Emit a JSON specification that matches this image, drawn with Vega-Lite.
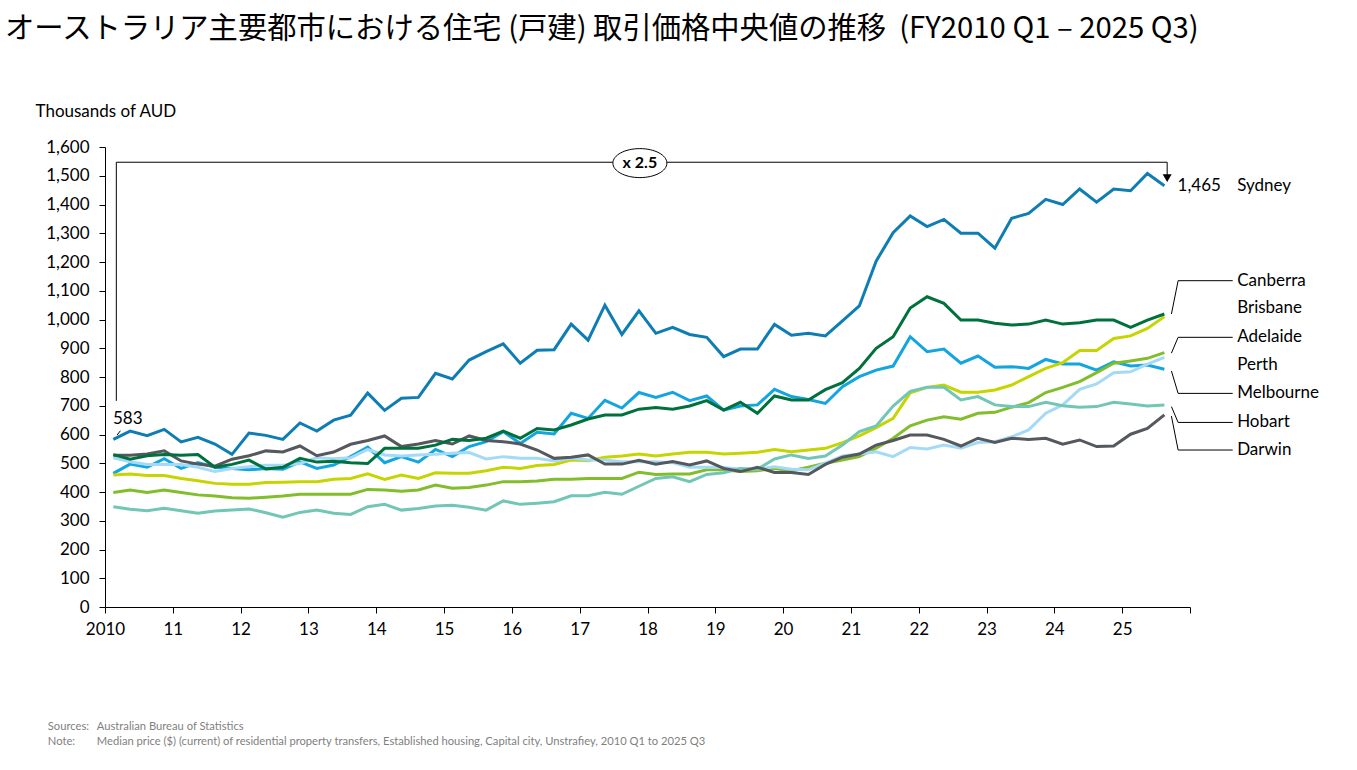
{
  "$schema": "https://vega.github.io/schema/vega-lite/v6.json",
  "width": 1085,
  "height": 460,
  "autosize": {"type": "none"},
  "padding": {"left": 105, "top": 147, "right": 167, "bottom": 163},
  "background": "white",
  "config": {"view": {"stroke": null}, "font": "Lato", "text": {"font": "Lato"}},
  "title": {
    "text": "オーストラリア主要都市における住宅 (戸建) 取引価格中央値の推移 \u00a0(FY2010 Q1 – 2025 Q3)",
    "anchor": "start", "frame": "group", "dx": -100, "offset": 58,
    "font": "Noto Sans CJK JP", "fontSize": 29.3, "fontWeight": "normal", "color": "#000000"
  },
  "resolve": {"scale": {"y": "independent"}},
  "layer": [
    {
      "data": {"values": [
        {"quarter":"2010-01-01","Sydney":583,"Melbourne":465,"Brisbane":459,"Adelaide":398,"Perth":519,"Hobart":349,"Darwin":528,"Canberra":530},
        {"quarter":"2010-04-01","Sydney":612,"Melbourne":497,"Brisbane":463,"Adelaide":407,"Perth":505,"Hobart":340,"Darwin":528,"Canberra":514},
        {"quarter":"2010-07-01","Sydney":596,"Melbourne":486,"Brisbane":457,"Adelaide":398,"Perth":496,"Hobart":335,"Darwin":532,"Canberra":526},
        {"quarter":"2010-10-01","Sydney":618,"Melbourne":516,"Brisbane":457,"Adelaide":407,"Perth":496,"Hobart":343,"Darwin":543,"Canberra":530},
        {"quarter":"2011-01-01","Sydney":574,"Melbourne":482,"Brisbane":447,"Adelaide":398,"Perth":496,"Hobart":335,"Darwin":508,"Canberra":528},
        {"quarter":"2011-04-01","Sydney":590,"Melbourne":502,"Brisbane":439,"Adelaide":390,"Perth":486,"Hobart":326,"Darwin":497,"Canberra":530},
        {"quarter":"2011-07-01","Sydney":567,"Melbourne":486,"Brisbane":430,"Adelaide":386,"Perth":471,"Hobart":334,"Darwin":490,"Canberra":486},
        {"quarter":"2011-10-01","Sydney":531,"Melbourne":482,"Brisbane":427,"Adelaide":380,"Perth":482,"Hobart":337,"Darwin":514,"Canberra":496},
        {"quarter":"2012-01-01","Sydney":605,"Melbourne":477,"Brisbane":427,"Adelaide":378,"Perth":488,"Hobart":341,"Darwin":526,"Canberra":511},
        {"quarter":"2012-04-01","Sydney":597,"Melbourne":482,"Brisbane":433,"Adelaide":382,"Perth":493,"Hobart":328,"Darwin":543,"Canberra":480},
        {"quarter":"2012-07-01","Sydney":583,"Melbourne":479,"Brisbane":434,"Adelaide":386,"Perth":493,"Hobart":312,"Darwin":539,"Canberra":486},
        {"quarter":"2012-10-01","Sydney":640,"Melbourne":505,"Brisbane":436,"Adelaide":392,"Perth":499,"Hobart":329,"Darwin":560,"Canberra":517},
        {"quarter":"2013-01-01","Sydney":612,"Melbourne":482,"Brisbane":436,"Adelaide":392,"Perth":519,"Hobart":337,"Darwin":526,"Canberra":504},
        {"quarter":"2013-04-01","Sydney":650,"Melbourne":494,"Brisbane":444,"Adelaide":392,"Perth":516,"Hobart":326,"Darwin":539,"Canberra":507},
        {"quarter":"2013-07-01","Sydney":667,"Melbourne":523,"Brisbane":447,"Adelaide":392,"Perth":519,"Hobart":322,"Darwin":566,"Canberra":502},
        {"quarter":"2013-10-01","Sydney":744,"Melbourne":556,"Brisbane":463,"Adelaide":409,"Perth":548,"Hobart":349,"Darwin":579,"Canberra":499},
        {"quarter":"2014-01-01","Sydney":684,"Melbourne":502,"Brisbane":444,"Adelaide":407,"Perth":529,"Hobart":357,"Darwin":595,"Canberra":552},
        {"quarter":"2014-04-01","Sydney":726,"Melbourne":523,"Brisbane":459,"Adelaide":403,"Perth":525,"Hobart":337,"Darwin":558,"Canberra":552},
        {"quarter":"2014-07-01","Sydney":729,"Melbourne":504,"Brisbane":447,"Adelaide":407,"Perth":529,"Hobart":343,"Darwin":567,"Canberra":552},
        {"quarter":"2014-10-01","Sydney":813,"Melbourne":548,"Brisbane":467,"Adelaide":424,"Perth":531,"Hobart":351,"Darwin":579,"Canberra":563},
        {"quarter":"2015-01-01","Sydney":793,"Melbourne":523,"Brisbane":465,"Adelaide":413,"Perth":535,"Hobart":354,"Darwin":567,"Canberra":583},
        {"quarter":"2015-04-01","Sydney":859,"Melbourne":558,"Brisbane":465,"Adelaide":416,"Perth":537,"Hobart":347,"Darwin":595,"Canberra":579},
        {"quarter":"2015-07-01","Sydney":888,"Melbourne":575,"Brisbane":474,"Adelaide":424,"Perth":515,"Hobart":337,"Darwin":579,"Canberra":587},
        {"quarter":"2015-10-01","Sydney":915,"Melbourne":610,"Brisbane":486,"Adelaide":436,"Perth":523,"Hobart":369,"Darwin":575,"Canberra":612},
        {"quarter":"2016-01-01","Sydney":848,"Melbourne":569,"Brisbane":482,"Adelaide":436,"Perth":517,"Hobart":357,"Darwin":567,"Canberra":587},
        {"quarter":"2016-04-01","Sydney":893,"Melbourne":608,"Brisbane":492,"Adelaide":438,"Perth":517,"Hobart":361,"Darwin":546,"Canberra":621},
        {"quarter":"2016-07-01","Sydney":895,"Melbourne":602,"Brisbane":496,"Adelaide":444,"Perth":508,"Hobart":366,"Darwin":517,"Canberra":616},
        {"quarter":"2016-10-01","Sydney":984,"Melbourne":674,"Brisbane":511,"Adelaide":444,"Perth":517,"Hobart":387,"Darwin":521,"Canberra":633},
        {"quarter":"2017-01-01","Sydney":928,"Melbourne":656,"Brisbane":509,"Adelaide":447,"Perth":511,"Hobart":387,"Darwin":529,"Canberra":654},
        {"quarter":"2017-04-01","Sydney":1050,"Melbourne":719,"Brisbane":521,"Adelaide":447,"Perth":511,"Hobart":399,"Darwin":497,"Canberra":668},
        {"quarter":"2017-07-01","Sydney":948,"Melbourne":692,"Brisbane":525,"Adelaide":447,"Perth":505,"Hobart":392,"Darwin":497,"Canberra":668},
        {"quarter":"2017-10-01","Sydney":1030,"Melbourne":746,"Brisbane":532,"Adelaide":469,"Perth":505,"Hobart":420,"Darwin":510,"Canberra":688},
        {"quarter":"2018-01-01","Sydney":952,"Melbourne":729,"Brisbane":525,"Adelaide":461,"Perth":505,"Hobart":447,"Darwin":497,"Canberra":694},
        {"quarter":"2018-04-01","Sydney":973,"Melbourne":747,"Brisbane":532,"Adelaide":463,"Perth":502,"Hobart":453,"Darwin":506,"Canberra":688},
        {"quarter":"2018-07-01","Sydney":948,"Melbourne":718,"Brisbane":538,"Adelaide":463,"Perth":486,"Hobart":436,"Darwin":494,"Canberra":699},
        {"quarter":"2018-10-01","Sydney":938,"Melbourne":734,"Brisbane":538,"Adelaide":477,"Perth":486,"Hobart":461,"Darwin":508,"Canberra":718},
        {"quarter":"2019-01-01","Sydney":871,"Melbourne":685,"Brisbane":532,"Adelaide":477,"Perth":485,"Hobart":467,"Darwin":482,"Canberra":685},
        {"quarter":"2019-04-01","Sydney":897,"Melbourne":699,"Brisbane":535,"Adelaide":471,"Perth":479,"Hobart":482,"Darwin":471,"Canberra":712},
        {"quarter":"2019-07-01","Sydney":897,"Melbourne":703,"Brisbane":538,"Adelaide":474,"Perth":479,"Hobart":479,"Darwin":486,"Canberra":674},
        {"quarter":"2019-10-01","Sydney":983,"Melbourne":757,"Brisbane":548,"Adelaide":482,"Perth":488,"Hobart":515,"Darwin":468,"Canberra":734},
        {"quarter":"2020-01-01","Sydney":945,"Melbourne":732,"Brisbane":540,"Adelaide":474,"Perth":479,"Hobart":529,"Darwin":468,"Canberra":720},
        {"quarter":"2020-04-01","Sydney":952,"Melbourne":722,"Brisbane":546,"Adelaide":486,"Perth":477,"Hobart":517,"Darwin":461,"Canberra":720},
        {"quarter":"2020-07-01","Sydney":943,"Melbourne":708,"Brisbane":552,"Adelaide":500,"Perth":500,"Hobart":525,"Darwin":496,"Canberra":756},
        {"quarter":"2020-10-01","Sydney":995,"Melbourne":766,"Brisbane":572,"Adelaide":511,"Perth":525,"Hobart":563,"Darwin":521,"Canberra":780},
        {"quarter":"2021-01-01","Sydney":1047,"Melbourne":801,"Brisbane":595,"Adelaide":523,"Perth":532,"Hobart":610,"Darwin":532,"Canberra":830},
        {"quarter":"2021-04-01","Sydney":1203,"Melbourne":824,"Brisbane":624,"Adelaide":552,"Perth":540,"Hobart":630,"Darwin":563,"Canberra":900},
        {"quarter":"2021-07-01","Sydney":1302,"Melbourne":838,"Brisbane":656,"Adelaide":587,"Perth":523,"Hobart":699,"Darwin":579,"Canberra":940},
        {"quarter":"2021-10-01","Sydney":1360,"Melbourne":940,"Brisbane":745,"Adelaide":630,"Perth":555,"Hobart":750,"Darwin":598,"Canberra":1040},
        {"quarter":"2022-01-01","Sydney":1323,"Melbourne":888,"Brisbane":764,"Adelaide":650,"Perth":550,"Hobart":764,"Darwin":598,"Canberra":1079},
        {"quarter":"2022-04-01","Sydney":1348,"Melbourne":897,"Brisbane":772,"Adelaide":662,"Perth":563,"Hobart":764,"Darwin":583,"Canberra":1056},
        {"quarter":"2022-07-01","Sydney":1300,"Melbourne":848,"Brisbane":747,"Adelaide":653,"Perth":552,"Hobart":720,"Darwin":560,"Canberra":998},
        {"quarter":"2022-10-01","Sydney":1300,"Melbourne":873,"Brisbane":747,"Adelaide":674,"Perth":572,"Hobart":732,"Darwin":587,"Canberra":998},
        {"quarter":"2023-01-01","Sydney":1248,"Melbourne":834,"Brisbane":755,"Adelaide":677,"Perth":575,"Hobart":703,"Darwin":572,"Canberra":987},
        {"quarter":"2023-04-01","Sydney":1352,"Melbourne":836,"Brisbane":772,"Adelaide":695,"Perth":592,"Hobart":697,"Darwin":587,"Canberra":981},
        {"quarter":"2023-07-01","Sydney":1369,"Melbourne":830,"Brisbane":801,"Adelaide":711,"Perth":616,"Hobart":697,"Darwin":583,"Canberra":984},
        {"quarter":"2023-10-01","Sydney":1418,"Melbourne":861,"Brisbane":830,"Adelaide":746,"Perth":674,"Hobart":712,"Darwin":587,"Canberra":998},
        {"quarter":"2024-01-01","Sydney":1400,"Melbourne":845,"Brisbane":850,"Adelaide":764,"Perth":703,"Hobart":700,"Darwin":566,"Canberra":984},
        {"quarter":"2024-04-01","Sydney":1454,"Melbourne":845,"Brisbane":892,"Adelaide":784,"Perth":757,"Hobart":695,"Darwin":581,"Canberra":989},
        {"quarter":"2024-07-01","Sydney":1408,"Melbourne":824,"Brisbane":892,"Adelaide":815,"Perth":776,"Hobart":697,"Darwin":558,"Canberra":998},
        {"quarter":"2024-10-01","Sydney":1454,"Melbourne":853,"Brisbane":934,"Adelaide":848,"Perth":815,"Hobart":712,"Darwin":560,"Canberra":998},
        {"quarter":"2025-01-01","Sydney":1448,"Melbourne":838,"Brisbane":943,"Adelaide":856,"Perth":818,"Hobart":706,"Darwin":601,"Canberra":973},
        {"quarter":"2025-04-01","Sydney":1508,"Melbourne":842,"Brisbane":969,"Adelaide":865,"Perth":845,"Hobart":699,"Darwin":621,"Canberra":998},
        {"quarter":"2025-07-01","Sydney":1465,"Melbourne":827,"Brisbane":1010,"Adelaide":885,"Perth":868,"Hobart":703,"Darwin":668,"Canberra":1019}
      ]},
      "transform": [
        {"fold": ["Sydney","Melbourne","Brisbane","Adelaide","Perth","Hobart","Darwin","Canberra"], "as": ["city","price"]}
      ],
      "mark": {"type": "line", "strokeWidth": 3},
      "encoding": {
        "x": {
          "field": "quarter", "type": "temporal", "timeUnit": "utcyearquarter", "bandPosition": 0.5,
          "scale": {"type": "utc", "nice": false, "domain": [{"year": 2010, "month": 1, "date": 1, "utc": true}, {"year": 2026, "month": 1, "date": 1, "utc": true}]},
          "axis": {
            "title": null,
            "values": [
              {"year": 2010, "month": 1, "date": 1, "utc": true}, {"year": 2011, "month": 1, "date": 1, "utc": true},
              {"year": 2012, "month": 1, "date": 1, "utc": true}, {"year": 2013, "month": 1, "date": 1, "utc": true},
              {"year": 2014, "month": 1, "date": 1, "utc": true}, {"year": 2015, "month": 1, "date": 1, "utc": true},
              {"year": 2016, "month": 1, "date": 1, "utc": true}, {"year": 2017, "month": 1, "date": 1, "utc": true},
              {"year": 2018, "month": 1, "date": 1, "utc": true}, {"year": 2019, "month": 1, "date": 1, "utc": true},
              {"year": 2020, "month": 1, "date": 1, "utc": true}, {"year": 2021, "month": 1, "date": 1, "utc": true},
              {"year": 2022, "month": 1, "date": 1, "utc": true}, {"year": 2023, "month": 1, "date": 1, "utc": true},
              {"year": 2024, "month": 1, "date": 1, "utc": true}, {"year": 2025, "month": 1, "date": 1, "utc": true},
              {"year": 2026, "month": 1, "date": 1, "utc": true}
            ],
            "labelExpr": "utcyear(datum.value) == 2010 ? '2010' : (utcyear(datum.value) >= 2026 ? '' : substring(toString(utcyear(datum.value)), 2, 4))",
            "labelAngle": 0, "labelFont": "Lato", "labelFontSize": 17, "labelFontWeight": "normal", "labelColor": "#000000",
            "labelPadding": 8, "labelFlush": false, "labelOverlap": false, "tickSize": 6, "tickColor": "#000000", "domainColor": "#000000", "grid": false
          }
        },
        "y": {
          "field": "price", "type": "quantitative",
          "scale": {"domain": [0, 1600], "nice": false, "zero": true},
          "axis": {
            "title": "Thousands of AUD", "titleAngle": 0, "titleAlign": "left", "titleBaseline": "middle",
            "titleX": -70, "titleY": -36, "titleFont": "Lato", "titleFontSize": 17, "titleFontWeight": "normal", "titleColor": "#000000",
            "values": [0,100,200,300,400,500,600,700,800,900,1000,1100,1200,1300,1400,1500,1600],
            "format": ",d", "labelFont": "Lato", "labelFontSize": 17, "labelFontWeight": "normal", "labelColor": "#000000", "labelPadding": 10,
            "tickSize": 6, "tickColor": "#000000", "domainColor": "#000000", "grid": false
          }
        },
        "color": {
          "field": "city", "type": "nominal",
          "scale": {
            "domain": ["Sydney","Melbourne","Brisbane","Adelaide","Perth","Hobart","Darwin","Canberra"],
            "range": ["#0E7DB3","#12A5DF","#C6D500","#82BD2B","#A5DAF6","#72C6B6","#55585D","#00703C"]
          },
          "legend": null
        }
      }
    },
    {
      "data": {"values": [
        {"t0": "2010-03-03", "v0": 717, "t1": "2010-03-03", "v1": 1547},
        {"t0": "2010-03-03", "v0": 1547, "t1": "2025-08-31", "v1": 1547},
        {"t0": "2025-08-31", "v0": 1547, "t1": "2025-08-31", "v1": 1500},
        {"t0": "2010-03-07", "v0": 598, "t1": "2010-03-25", "v1": 613},
        {"t0": "2025-09-23", "v0": 1019, "t1": "2025-10-29", "v1": 1135},
        {"t0": "2025-10-29", "v0": 1135, "t1": "2026-08-19", "v1": 1135},
        {"t0": "2025-09-23", "v0": 883, "t1": "2025-10-29", "v1": 938},
        {"t0": "2025-10-29", "v0": 938, "t1": "2026-08-19", "v1": 938},
        {"t0": "2025-09-23", "v0": 821, "t1": "2025-10-29", "v1": 743},
        {"t0": "2025-10-29", "v0": 743, "t1": "2026-08-19", "v1": 743},
        {"t0": "2025-09-23", "v0": 697, "t1": "2025-10-29", "v1": 642},
        {"t0": "2025-10-29", "v0": 642, "t1": "2026-08-19", "v1": 642},
        {"t0": "2025-09-23", "v0": 664, "t1": "2025-10-29", "v1": 546},
        {"t0": "2025-10-29", "v0": 546, "t1": "2026-08-19", "v1": 546}
      ]},
      "mark": {"type": "rule", "color": "#000000", "strokeWidth": 1},
      "encoding": {
        "x": {"field": "t0", "type": "temporal"},
        "x2": {"field": "t1"},
        "y": {"field": "v0", "type": "quantitative", "scale": {"domain": [0, 1600], "nice": false, "zero": false}, "axis": null},
        "y2": {"field": "v1"}
      }
    },
    {
      "data": {"values": [{}]},
      "mark": {"type": "point", "shape": "triangle-down", "size": 81, "filled": true, "color": "#000000", "opacity": 1},
      "encoding": {
        "x": {"datum": {"year": 2025, "month": 8, "date": 31, "utc": true}, "type": "temporal"},
        "y": {"datum": 1492, "type": "quantitative", "scale": {"domain": [0, 1600], "nice": false, "zero": false}, "axis": null}
      }
    },
    {
      "data": {"values": [{}]},
      "mark": {"type": "point", "shape": "M -1 0 A 1 0.537 0 1 0 1 0 A 1 0.537 0 1 0 -1 0 Z", "size": 2916, "filled": true, "fill": "#ffffff", "stroke": "#000000", "strokeWidth": 1, "opacity": 1},
      "encoding": {
        "x": {"datum": {"year": 2017, "month": 11, "date": 21, "utc": true}, "type": "temporal"},
        "y": {"datum": 1544, "type": "quantitative", "scale": {"domain": [0, 1600], "nice": false, "zero": false}, "axis": null}
      }
    },
    {
      "data": {"values": [{}]},
      "mark": {"type": "text", "text": "x 2.5", "fontWeight": "bold", "fontSize": 16, "align": "center", "baseline": "middle", "color": "#000000"},
      "encoding": {
        "x": {"datum": {"year": 2017, "month": 11, "date": 21, "utc": true}, "type": "temporal"},
        "y": {"datum": 1544, "type": "quantitative", "scale": {"domain": [0, 1600], "nice": false, "zero": false}, "axis": null}
      }
    },
    {
      "data": {"values": [{}]},
      "mark": {"type": "text", "text": "583", "fontSize": 17, "align": "left", "baseline": "middle", "color": "#000000"},
      "encoding": {
        "x": {"datum": {"year": 2010, "month": 2, "date": 13, "utc": true}, "type": "temporal"},
        "y": {"datum": 654, "type": "quantitative", "scale": {"domain": [0, 1600], "nice": false, "zero": false}, "axis": null}
      }
    },
    {
      "data": {"values": [{}]},
      "mark": {"type": "text", "text": "1,465", "fontSize": 17, "align": "left", "baseline": "middle", "color": "#000000"},
      "encoding": {
        "x": {"datum": {"year": 2025, "month": 10, "date": 26, "utc": true}, "type": "temporal"},
        "y": {"datum": 1463, "type": "quantitative", "scale": {"domain": [0, 1600], "nice": false, "zero": false}, "axis": null}
      }
    },
    {
      "data": {"values": [
        {"city": "Sydney", "at": 1463},
        {"city": "Canberra", "at": 1135},
        {"city": "Brisbane", "at": 1039},
        {"city": "Adelaide", "at": 938},
        {"city": "Perth", "at": 842},
        {"city": "Melbourne", "at": 743},
        {"city": "Hobart", "at": 642},
        {"city": "Darwin", "at": 546}
      ]},
      "mark": {"type": "text", "fontSize": 17, "align": "left", "baseline": "middle", "color": "#000000"},
      "encoding": {
        "x": {"datum": {"year": 2026, "month": 9, "date": 12, "utc": true}, "type": "temporal"},
        "y": {"field": "at", "type": "quantitative", "scale": {"domain": [0, 1600], "nice": false, "zero": false}, "axis": null},
        "text": {"field": "city"}
      }
    },
    {
      "data": {"values": [{}]},
      "mark": {"type": "text", "text": ["Sources:", "Note:"], "fontSize": 11.2, "lineHeight": 15, "align": "left", "baseline": "top", "color": "#7F7F7F"},
      "encoding": {
        "x": {"datum": {"year": 2009, "month": 2, "date": 27, "utc": true}, "type": "temporal"},
        "y": {"datum": -396, "type": "quantitative", "scale": {"domain": [0, 1600], "nice": false, "zero": false}, "axis": null}
      }
    },
    {
      "data": {"values": [{}]},
      "mark": {"type": "text", "text": ["Australian Bureau of Statistics", "Median price ($) (current) of residential property transfers, Established housing, Capital city, Unstrafiey, 2010 Q1 to 2025 Q3"], "fontSize": 11.2, "lineHeight": 15, "align": "left", "baseline": "top", "color": "#7F7F7F"},
      "encoding": {
        "x": {"datum": {"year": 2009, "month": 11, "date": 18, "utc": true}, "type": "temporal"},
        "y": {"datum": -396, "type": "quantitative", "scale": {"domain": [0, 1600], "nice": false, "zero": false}, "axis": null}
      }
    }
  ]
}
